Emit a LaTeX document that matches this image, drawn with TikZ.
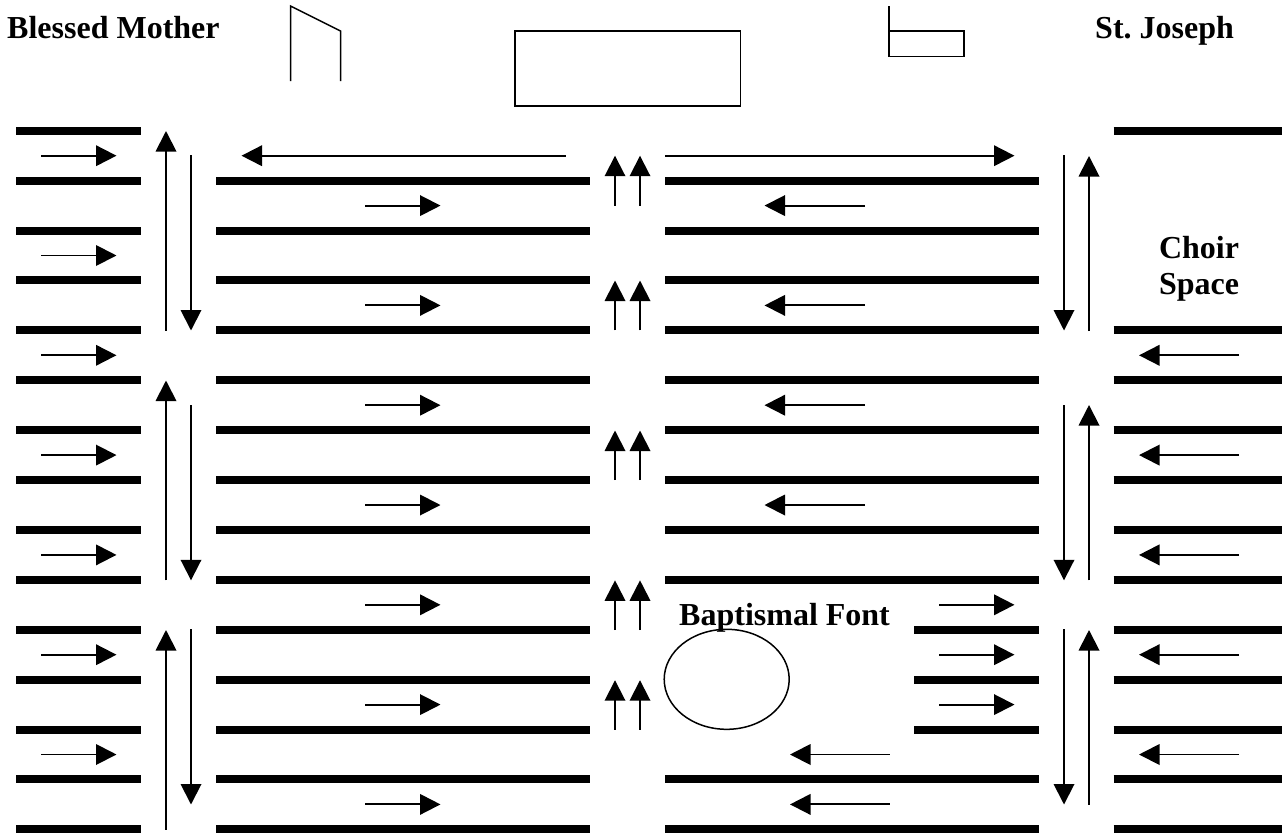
\documentclass[tikz,border=0pt]{standalone}
\usepackage{fontspec}
\setmainfont{Liberation Serif}
\usetikzlibrary{arrows.meta}
\frenchspacing
\tikzset{
  bar/.style={line width=8pt,black},
  flow/.style={line width=1.9pt,black,-{Triangle[length=20.5pt,width=20.5pt]}},
  outline/.style={line width=1.5pt,black,line join=miter},
  label/.style={font=\fontsize{32}{36}\selectfont\bfseries,inner sep=0pt,anchor=base west,text=black}
}
\newcommand{\rowy}[1]{\pgfmathsetmacro{\yy}{130.7+49.9*#1}}
\begin{document}
\begin{tikzpicture}[x=1pt,y=-1pt]
\useasboundingbox (0,0) rectangle (1282,833);
\fill[white] (0,0) rectangle (1282,833);
% pews
\foreach \k in {0,...,14}{\rowy{\k}\draw[bar] (16.3,\yy) -- (141.3,\yy);}
\foreach \k in {1,...,14}{\rowy{\k}\draw[bar] (216,\yy) -- (590,\yy);}
\foreach \k in {1,...,9,13,14}{\rowy{\k}\draw[bar] (665,\yy) -- (1039,\yy);}
\foreach \k in {10,11,12}{\rowy{\k}\draw[bar] (914,\yy) -- (1039,\yy);}
\foreach \k in {0,4,5,...,14}{\rowy{\k}\draw[bar] (1113.5,\yy) -- (1282,\yy);}
% horizontal flow
\foreach \y in {155.7,255.5,355.3,455.1,554.9,654.7,754.5}{\draw[flow] (41,\y) -- (116.5,\y);}
\foreach \y in {205.6,305.4,405.2,505,604.8,704.6,804.4}{\draw[flow] (365,\y) -- (440.5,\y);}
\foreach \y in {205.6,305.4,405.2,505}{\draw[flow] (865,\y) -- (764.5,\y);}
\foreach \y in {355.3,455.1,554.9,654.7,754.5}{\draw[flow] (1239,\y) -- (1139,\y);}
\foreach \y in {604.8,654.7,704.6}{\draw[flow] (939,\y) -- (1014.5,\y);}
\foreach \y in {754.5,804.4}{\draw[flow] (889.5,\y) -- (790,\y);}
\draw[flow] (565.5,155.7) -- (241.5,155.7);
\draw[flow] (665,155.7) -- (1014.5,155.7);
% centre aisle
\foreach \a/\b in {155.7/205.6,280.5/330.4,430.5/480.2,580.3/630,680.2/729.8}{
  \draw[flow] (615,\b) -- (615,\a);
  \draw[flow] (640,\b) -- (640,\a);
}
% side aisles
\foreach \a/\b/\c/\d in {131/330.5/155/330.5,380.5/580.3/405/580.3,630/829.5/629/804.5}{
  \draw[flow] (166,\b) -- (166,\a);
  \draw[flow] (191,\c) -- (191,\d);
}
\foreach \a/\b in {155/330.5,405/580.3,629/804.5}{\draw[flow] (1064,\a) -- (1064,\b);}
\foreach \a/\b in {156/331,405/580.3,630/804.5}{\draw[flow] (1089,\b) -- (1089,\a);}
% sanctuary furniture
\draw[outline] (290.5,81) -- (290.5,6) -- (340.5,31) -- (340.5,81);
\draw[outline] (515,31) rectangle (740.5,106);
\draw[outline] (889,6) -- (889,31) -- (964,31) -- (964,56.5) -- (889,56.5) -- cycle;
\draw[outline] (726.7,679.3) ellipse [x radius=62.5,y radius=50];
% labels
\node[label] (mother) at (7,38) {Blessed Mother};
\node[label] (joseph) at (1095,38) {St. Joseph};
\node[label,anchor=base] (choir) at (1199,258.5) {Choir};
\node[label,anchor=base] (space) at (1199,294.5) {Space};
\node[label] (font) at (679,625.7) {Baptismal Font};
\end{tikzpicture}
\end{document}
